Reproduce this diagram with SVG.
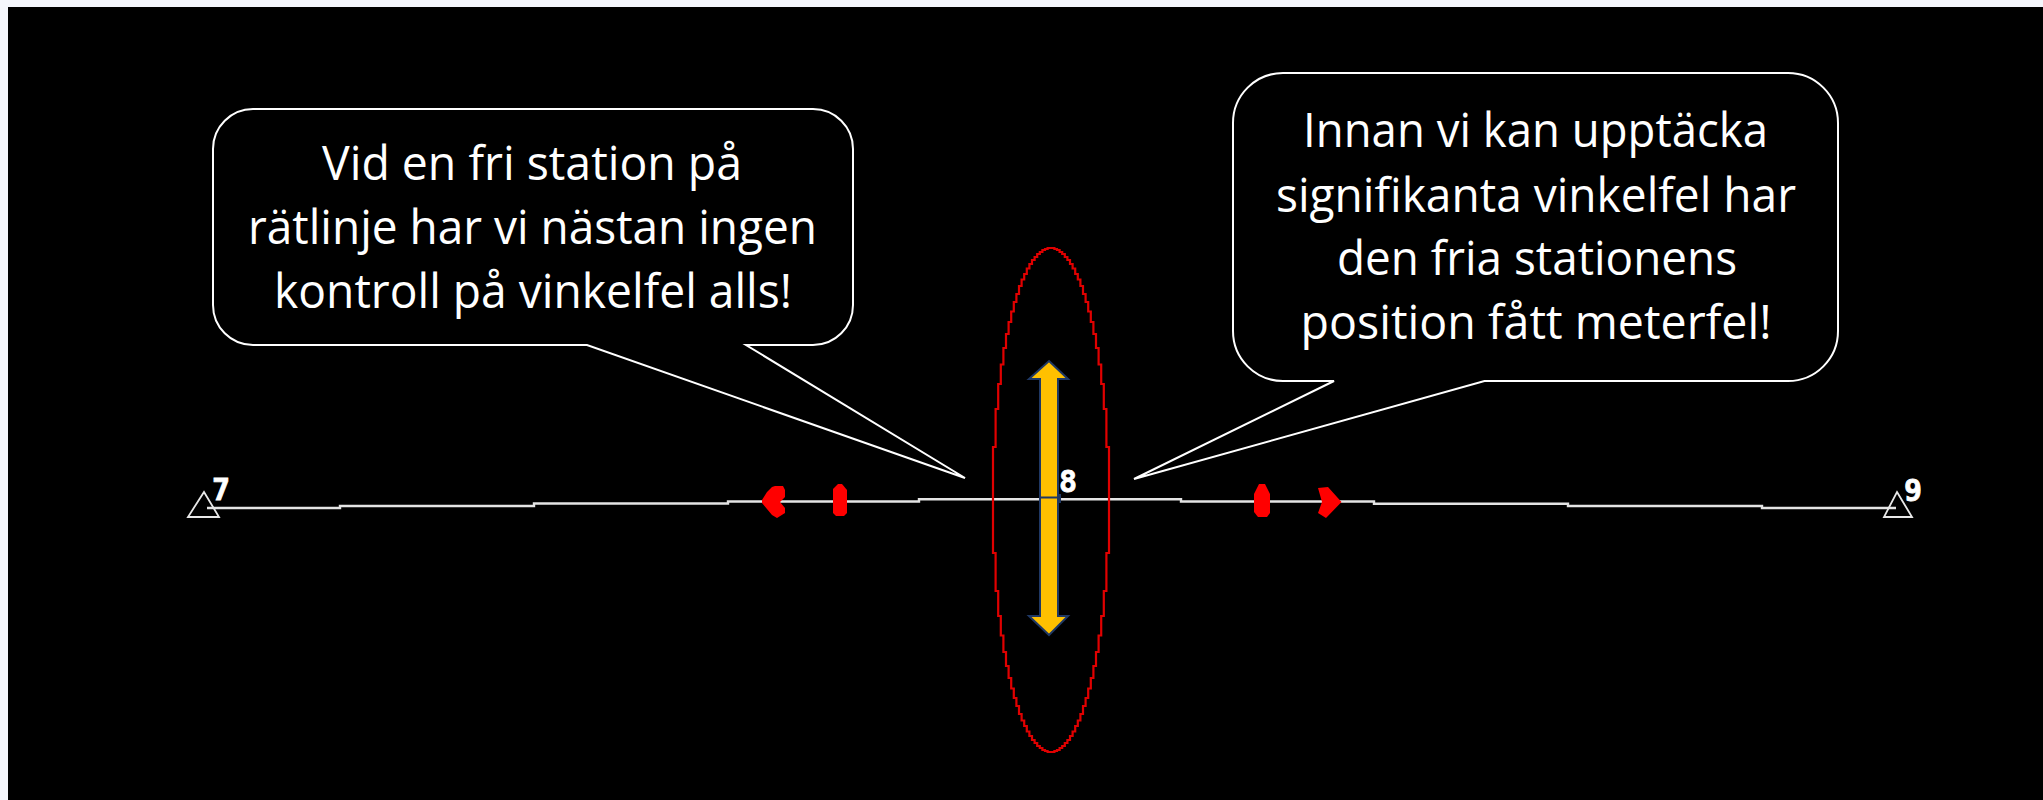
<svg xmlns="http://www.w3.org/2000/svg" width="2043" height="800" viewBox="0 0 2043 800">
<defs>
<path id="quarter" d="M58 0V53H55.400V91H52.800V116H50.200V135.500H47.600V152H45V166H42.400V178H39.800V188.500H37.200V198H34.600V206H32V214H29.400V220.500H26.800V226H24.200V231.500H21.600V236H19V240H16.400V243H13.800V246H11.200V248H8.600V250H6V251H3.400V252H0" fill="none" stroke="#e00000" stroke-width="2.200"/>
</defs>
<style>
.call{fill:#000;stroke:#fff;stroke-width:2;stroke-linejoin:miter}
.t{font-family:"Open Sans","Noto Sans",sans-serif;font-size:47px;fill:#fff;text-anchor:middle}
.wire{fill:none;stroke:#e4e4e4;stroke-width:2.400}
.red{fill:#f00}
.lab{font-family:"DejaVu Sans Mono",monospace;font-weight:bold;font-size:30px;fill:#fff;stroke:#fff;stroke-width:.8}
.tri{fill:none;stroke:#e8e8e8;stroke-width:1.800}
</style>
<rect width="2043" height="800" fill="#f5f7fc"/>
<rect x="8" y="7" width="2035" height="793" fill="#000"/>
<g id="connectors">
<path class="wire" d="M207 508H340V506H534V503.500H728V501.500H919V499.300H1181V501.500H1374V503.700H1568V506H1762V508H1896"/>
</g>
<g id="station-7">
<path class="tri" d="M204 492L219 517H188Z"/>
<text class="lab" x="212" y="500">7</text>
</g>
<g id="station-9">
<path class="tri" d="M1897 492L1912 517H1884Z"/>
<text class="lab" x="1904" y="501">9</text>
</g>
<g id="error-marks">
<path class="red" d="M775 486H783L785 490V497L780 502L785 508V513L777 518L772 515L762 503V500L767 492L772 487Z"/>
<path class="red" d="M838 484H842L847 490V513L844 516H836L833 513V489Z"/>
<path class="red" d="M1259 484H1265L1270 494V513L1267 517H1258L1254 512V494Z"/>
<path class="red" d="M1318 488L1328 487L1341.500 502L1326 518L1318 513L1322 502Z"/>
</g>
<g id="ellipse" transform="translate(1051 500)">
<use href="#quarter"/>
<use href="#quarter" transform="scale(-1 1)"/>
<use href="#quarter" transform="scale(1 -1)"/>
<use href="#quarter" transform="scale(-1 -1)"/>
</g>
<g id="arrow">
<path d="M1049 361L1068 379H1058V616H1068L1049 635L1029 616H1040V379H1029Z" fill="#ffc000" stroke="#1f3864" stroke-width="2"/>
<path d="M1040 497.500H1058M1060 494V503" stroke="#1f3864" stroke-width="2" fill="none"/>
</g>
<g id="station-8"><text class="lab" x="1059" y="492">8</text></g>
<g id="callout-left">
<path class="call" d="M253 109H813A40 40 0 0 1 853 149V305A40 40 0 0 1 813 345H746L965 478L587 345H253A40 40 0 0 1 213 305V149A40 40 0 0 1 253 109Z"/>
<text class="t" x="532" y="180" textLength="420" lengthAdjust="spacingAndGlyphs">Vid en fri station på</text>
<text class="t" x="532.500" y="244" textLength="569" lengthAdjust="spacingAndGlyphs">rätlinje har vi nästan ingen</text>
<text class="t" x="533" y="308" textLength="518" lengthAdjust="spacingAndGlyphs">kontroll på vinkelfel alls!</text>
</g>
<g id="callout-right">
<path class="call" d="M1283 73H1788A50 50 0 0 1 1838 123V331A50 50 0 0 1 1788 381H1484.500L1134 479L1334 381H1283A50 50 0 0 1 1233 331V123A50 50 0 0 1 1283 73Z"/>
<text class="t" x="1535.500" y="147" textLength="465" lengthAdjust="spacingAndGlyphs">Innan vi kan upptäcka</text>
<text class="t" x="1536" y="212" textLength="520" lengthAdjust="spacingAndGlyphs">signifikanta vinkelfel har</text>
<text class="t" x="1537" y="275" textLength="400" lengthAdjust="spacingAndGlyphs">den fria stationens</text>
<text class="t" x="1536" y="339" textLength="471" lengthAdjust="spacingAndGlyphs">position fått meterfel!</text>
</g>
</svg>
